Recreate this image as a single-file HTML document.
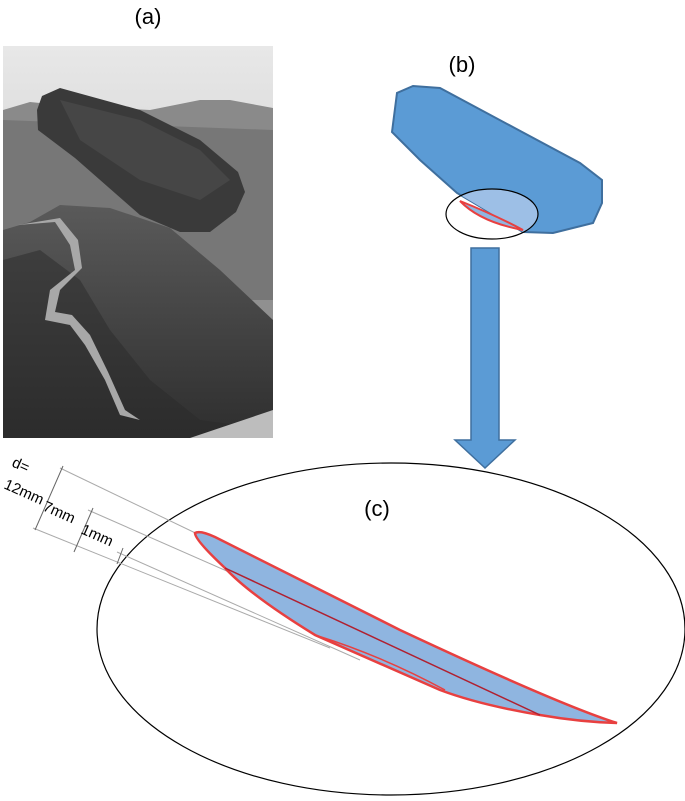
<!DOCTYPE html>
<html><head><style>body{margin:0;background:#fff}svg{display:block}</style></head><body>
<svg width="685" height="801" viewBox="0 0 685 801" xmlns="http://www.w3.org/2000/svg" font-family="Liberation Sans, sans-serif">
<defs>
<linearGradient id="sky" x1="0" y1="0" x2="0" y2="1"><stop offset="0" stop-color="#e8e8e8"/><stop offset="1" stop-color="#b8b8b8"/></linearGradient>
<linearGradient id="hill" x1="0" y1="0" x2="0" y2="1"><stop offset="0" stop-color="#5a5a5a"/><stop offset="1" stop-color="#2e2e2e"/></linearGradient>
<clipPath id="ec"><ellipse cx="492" cy="214" rx="46" ry="25"/></clipPath>
</defs>
<text x="148" y="24" font-size="22" text-anchor="middle">(a)</text>
<text x="462" y="72" font-size="22" text-anchor="middle">(b)</text>
<text x="377" y="516" font-size="22" text-anchor="middle">(c)</text>
<!-- photo -->
<rect x="3" y="46" width="270" height="392" fill="url(#sky)"/>
<path d="M3 110 L30 102 L60 105 L150 110 L200 100 L230 100 L273 108 L273 300 L3 300Z" fill="#8a8a8a"/>
<path d="M3 120 L273 130 L273 438 L3 438Z" fill="#6a6a6a" opacity="0.6"/>
<path d="M3 230 L30 222 L60 205 L110 208 L170 228 L220 270 L273 320 L273 438 L3 438Z" fill="url(#hill)"/>
<path d="M3 260 L40 250 L80 280 L110 330 L150 380 L200 420 L273 430 L273 438 L3 438Z" fill="#2a2a2a" opacity="0.5"/>
<path d="M42 96 L60 88 L140 110 L200 140 L238 172 L245 192 L236 212 L210 232 L180 232 L140 215 L75 158 L38 130 L37 110Z" fill="#3a3a3a"/>
<path d="M60 100 L140 120 L200 150 L230 180 L200 200 L140 180 L80 140Z" fill="#4e4e4e" opacity="0.6"/>
<path d="M18 225 L55 222 L70 245 L75 270 L50 290 L45 320 L70 325 L85 345 L105 380 L120 415 L140 420 L125 410 L108 372 L90 335 L72 315 L55 312 L60 290 L82 268 L78 240 L60 218 Z" fill="#a8a8a8"/>
<path d="M190 438 L273 410 L273 438Z" fill="#bdbdbd"/>
<!-- (b) -->
<path d="M392 132 L397 93 L413 86 L440 88 L580 163 L602 180 L602 203 L593 223 L553 233 L523 232 L457 193 L420 160 Z" fill="#5b9bd5" stroke="#3f6f9e" stroke-width="2"/>
<path d="M392 132 L397 93 L413 86 L440 88 L580 163 L602 180 L602 203 L593 223 L553 233 L523 232 L457 193 L420 160 Z" fill="#9dbfe6" clip-path="url(#ec)"/>
<ellipse cx="492" cy="214" rx="46" ry="25" fill="none" stroke="#000" stroke-width="1.2"/>
<path d="M460 201 Q480 222 523 230 Q495 215 460 201Z" fill="#8fb5e0" stroke="#e84040" stroke-width="2"/>
<!-- arrow -->
<path d="M471 248 H499 V440 H515 L485 468 L455 440 H471Z" fill="#5b9bd5" stroke="#3f6f9e" stroke-width="1.5"/>
<!-- (c) -->
<ellipse cx="391" cy="629" rx="294" ry="166" fill="none" stroke="#000" stroke-width="1.2"/>
<g stroke="#aaa" stroke-width="1" fill="none">
<line x1="60" y1="468" x2="235" y2="552"/>
<line x1="88" y1="510" x2="320" y2="612"/>
<line x1="33" y1="528" x2="330" y2="648"/>
<line x1="117" y1="552" x2="360" y2="660"/>
</g>
<g stroke="#666" stroke-width="1">
<line x1="63" y1="466" x2="35" y2="530"/>
<line x1="93" y1="508" x2="74" y2="552"/>
<line x1="123" y1="548" x2="117" y2="564"/>
</g>
<g font-size="15">
<text transform="translate(11,466) rotate(24)">d=</text>
<text transform="translate(3,488) rotate(24)">12mm</text>
<text transform="translate(42,510) rotate(24)">7mm</text>
<text transform="translate(80,533) rotate(24)">1mm</text>
</g>
<path d="M195 533 Q200 530 215 537 L400 630 Q560 705 617 723 Q580 722 540 715 Q480 705 440 690 L315 635 Q250 595 225 568 Q195 540 195 533Z" fill="#8fb5e0" stroke="#e84040" stroke-width="2.5"/>
<line x1="225" y1="568" x2="540" y2="715" stroke="#b02030" stroke-width="1.5"/>
<path d="M315 635 Q380 655 445 690" fill="none" stroke="#e84040" stroke-width="1.5"/>
</svg>
</body></html>
